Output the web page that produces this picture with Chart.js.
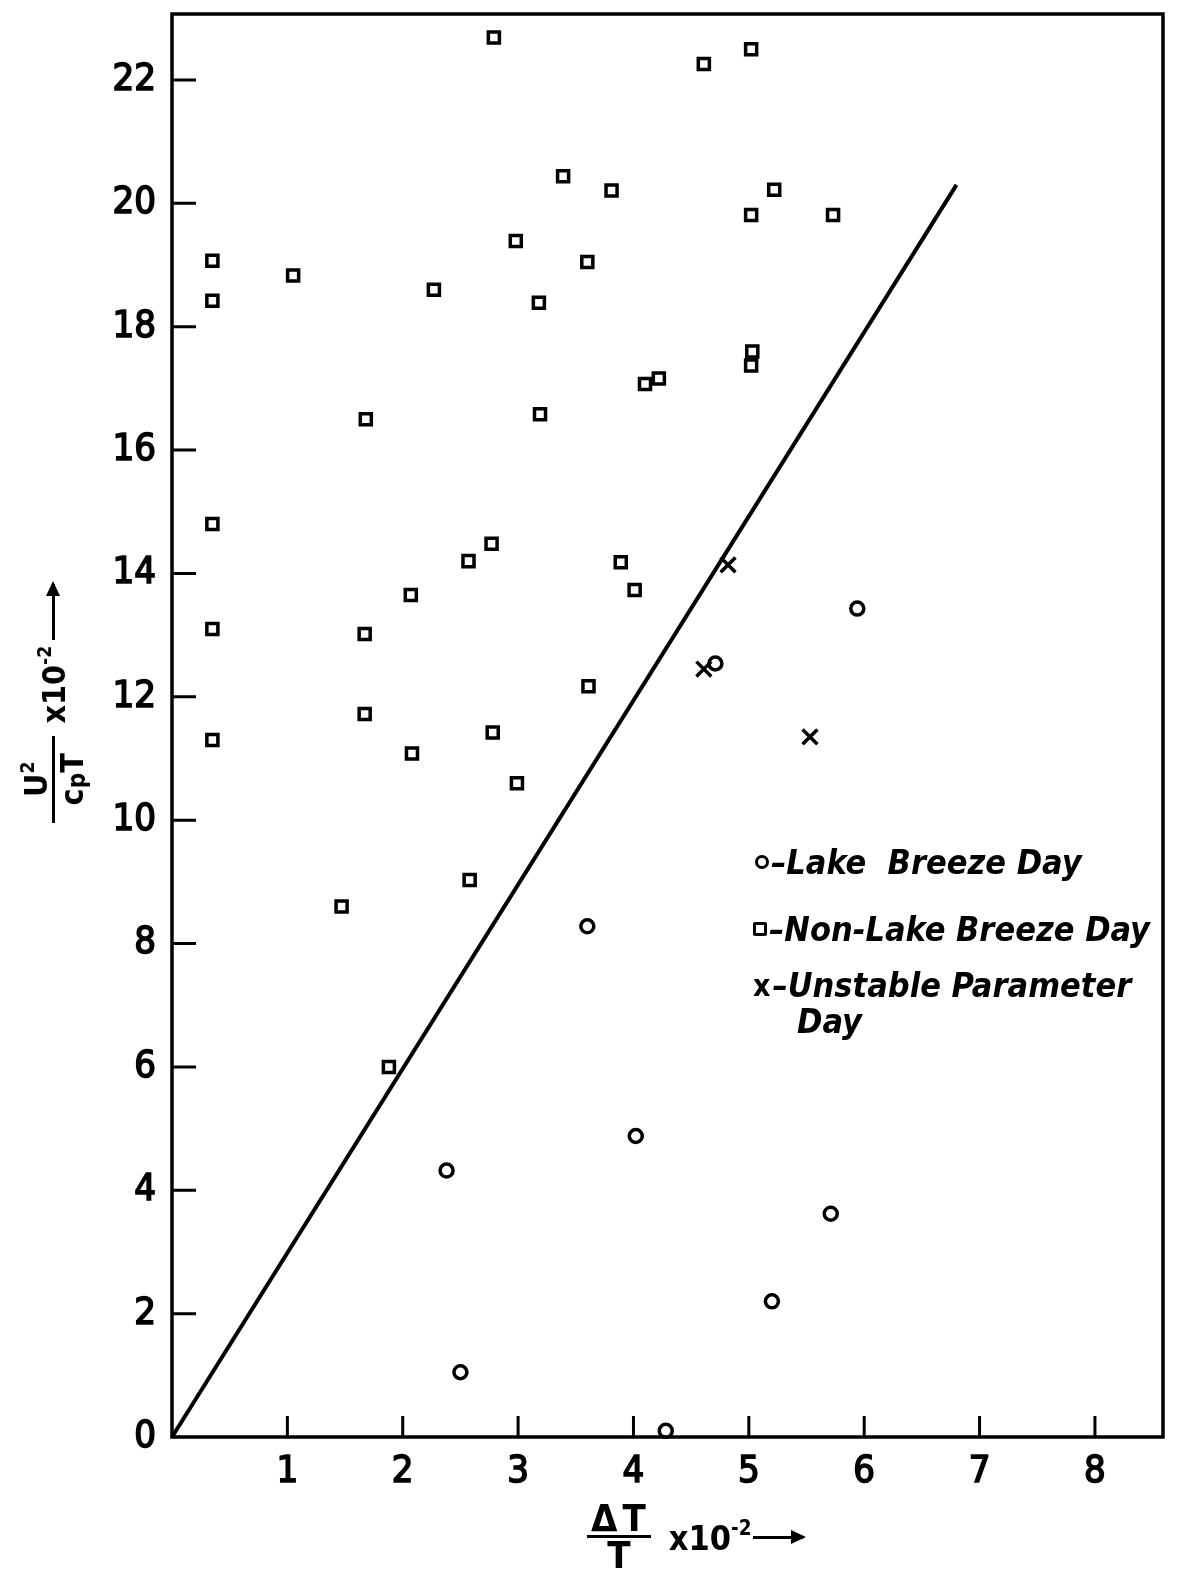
<!DOCTYPE html>
<html>
<head>
<meta charset="utf-8">
<script src="https://cdn.jsdelivr.net/npm/chart.js@4.4.1/dist/chart.umd.min.js"></script>
<style>
  body { margin: 0; background: #fff; }
  #wrap { position: relative; width: 1177px; height: 1571px; }
  #chart { position: absolute; left: 0; top: 0; }
  .ttl { position: absolute; display: flex; align-items: center; color: #000; font-weight: bold;
         font-family: "DejaVu Sans Condensed", "DejaVu Sans", sans-serif; white-space: nowrap; }
  .frac { display: inline-flex; flex-direction: column; align-items: center; }
  .frac .num { border-bottom: 3.5px solid #000; }
  .mult sup { font-size: 0.6em; vertical-align: 0.75em; }
  .frac sup { font-size: 0.6em; vertical-align: 0.7em; }
  .frac sub { font-size: 0.75em; vertical-align: -0.1em; }
  .arrow { position: relative; height: 3px; background: #000; }
  .arrow::after { content: ""; position: absolute; right: -3px; top: -6px;
                  border-left: 15px solid #000; border-top: 7.5px solid transparent; border-bottom: 7.5px solid transparent; }
  #ytitle { left: -72px; top: 663px; width: 250px; height: 70px; font-size: 32px; transform: rotate(-90deg); }
  #ytitle .num { padding: 0 26px; line-height: 32px; }
  #ytitle .den { line-height: 34px; }
  #ytitle .mult { margin-left: 12px; }
  #ytitle .arrow { width: 56px; margin-left: 6px; }
  #xtitle { left: 587px; top: 1503px; height: 68px; font-size: 34px; }
  #xtitle .num { font-size: 38px; letter-spacing: 5px; padding: 0 0 0 4px; line-height: 33px; }
  #xtitle .den { font-size: 38px; line-height: 34px; }
  #xtitle .mult { margin-left: 18px; }
  #xtitle .arrow { width: 50px; margin-left: 2px; }
  .leg { position: absolute; display: flex; align-items: center; height: 40px; color: #000;
         font-family: "DejaVu Sans Condensed", "DejaVu Sans", sans-serif; font-size: 34px; font-weight: bold;
         font-style: italic; white-space: pre; }
  .mk { display: inline-block; box-sizing: border-box; border: 3px solid #000; margin-right: 2px; }
  .mk.circ { width: 14px; height: 14px; border-radius: 50%; }
  .mk.sq { width: 14px; height: 14px; border-radius: 2px; }
  .mk.x { border: none; font-style: normal; font-size: 30px; width: auto; }
</style>
</head>
<body>
<div id="wrap">
  <canvas id="chart" width="1177" height="1571"></canvas>

  <div id="ytitle" class="ttl">
    <span class="frac"><span class="num">U<sup>2</sup></span><span class="den">c<sub>p</sub>T</span></span>
    <span class="mult">x10<sup>-2</sup></span>
    <span class="arrow"></span>
  </div>

  <div id="xtitle" class="ttl">
    <span class="frac"><span class="num">ΔT</span><span class="den">T</span></span>
    <span class="mult">x10<sup>-2</sup></span>
    <span class="arrow"></span>
  </div>

  <div class="leg" style="left:755px; top:842px"><span class="mk circ"></span>–Lake  Breeze Day</div>
  <div class="leg" style="left:753px; top:909px"><span class="mk sq"></span>–Non-Lake Breeze Day</div>
  <div class="leg" style="left:753px; top:965px"><span class="mk x">x</span>–Unstable Parameter</div>
  <div class="leg" style="left:797px; top:1001px">Day</div>
</div>

<script>
// x = ΔT/T ×10^-2, y = U²/(cpT) ×10^-2
const lakeBreeze = [
  [4.71, 12.54], [5.94, 13.43], [3.60, 8.28], [4.02, 4.88], [2.38, 4.32],
  [5.71, 3.62], [5.20, 2.20], [2.50, 1.05], [4.28, 0.10]
];
const nonLakeBreeze = [
  [0.35, 19.07], [0.35, 18.42], [1.05, 18.83], [2.27, 18.60], [2.79, 22.69],
  [2.98, 19.39], [3.18, 18.39], [3.39, 20.44], [3.60, 19.05], [3.81, 20.21],
  [4.61, 22.26], [5.02, 22.50], [5.02, 19.81], [5.22, 20.22], [5.73, 19.81],
  [1.68, 16.50], [3.19, 16.58], [4.10, 17.07], [4.22, 17.16], [5.03, 17.60],
  [5.02, 17.37], [0.35, 14.80], [0.35, 13.10], [0.35, 11.30], [2.57, 14.20],
  [2.77, 14.48], [2.07, 13.65], [1.67, 13.02], [1.67, 11.72], [2.08, 11.08],
  [2.78, 11.42], [2.99, 10.60], [3.61, 12.17], [3.89, 14.18], [4.01, 13.73],
  [1.47, 8.60], [2.58, 9.03], [1.88, 6.00]
];
const unstable = [[4.82, 14.14], [4.61, 12.45], [5.53, 11.35]];
const boundaryLine = [[0, 0], [6.8, 20.3]];

const xTicks = [1, 2, 3, 4, 5, 6, 7, 8];
const yTicks = [0, 2, 4, 6, 8, 10, 12, 14, 16, 18, 20, 22];
const xMax = 8.59, yMax = 23.07;

const toPts = arr => arr.map(p => ({ x: p[0], y: p[1] }));
const tickFont = { family: "'DejaVu Sans Condensed', 'DejaVu Sans', sans-serif", size: 38, weight: 'normal' };

// frame and inward tick marks
const frameTicks = {
  id: 'frameTicks',
  afterDraw(chart) {
    const { ctx, chartArea: a, scales: { x, y } } = chart;
    ctx.save();
    ctx.strokeStyle = '#000';
    ctx.lineWidth = 3.5;
    ctx.strokeRect(a.left, a.top, a.right - a.left, a.bottom - a.top);
    ctx.lineWidth = 3;
    ctx.beginPath();
    xTicks.forEach(v => {
      const px = x.getPixelForValue(v);
      ctx.moveTo(px, a.bottom);
      ctx.lineTo(px, a.bottom - 21);
    });
    yTicks.filter(v => v > 0).forEach(v => {
      const py = y.getPixelForValue(v);
      ctx.moveTo(a.left, py);
      ctx.lineTo(a.left + 24, py);
    });
    ctx.stroke();
    ctx.restore();
  }
};

new Chart(document.getElementById('chart'), {
  type: 'scatter',
  data: {
    datasets: [
      {
        label: 'Lake Breeze Day',
        data: toPts(lakeBreeze),
        pointStyle: 'circle',
        pointRadius: 6.5,
        pointBorderWidth: 3.5,
        pointBorderColor: '#000',
        pointBackgroundColor: 'rgba(0,0,0,0)',
        clip: false
      },
      {
        label: 'Non-Lake Breeze Day',
        data: toPts(nonLakeBreeze),
        pointStyle: 'rect',
        pointRadius: 7.8,
        pointBorderWidth: 3.5,
        pointBorderColor: '#000',
        pointBackgroundColor: 'rgba(0,0,0,0)',
        clip: false
      },
      {
        label: 'Unstable Parameter Day',
        data: toPts(unstable),
        pointStyle: 'crossRot',
        pointRadius: 10.5,
        pointBorderWidth: 3.5,
        pointBorderColor: '#000',
        clip: false
      },
      {
        type: 'line',
        label: 'Boundary',
        data: toPts(boundaryLine),
        borderColor: '#000',
        borderWidth: 4,
        pointRadius: 0,
        showLine: true,
        fill: false,
        clip: false
      }
    ]
  },
  options: {
    responsive: false,
    animation: false,
    devicePixelRatio: 1,
    events: [],
    layout: { padding: { top: 12, right: 9, left: 0, bottom: 0 } },
    plugins: {
      legend: { display: false },
      tooltip: { enabled: false }
    },
    scales: {
      x: {
        type: 'linear',
        min: 0,
        max: xMax,
        afterBuildTicks: s => { s.ticks = xTicks.map(v => ({ value: v })); },
        afterFit: s => { s.height = 134; s.paddingLeft = 0; s.paddingRight = 0; },
        grid: { display: false, drawTicks: false },
        border: { display: false },
        ticks: { color: '#000', font: tickFont, padding: 12, maxRotation: 0, autoSkip: false,
                 textStrokeColor: '#000', textStrokeWidth: 1.6 }
      },
      y: {
        type: 'linear',
        min: 0,
        max: yMax,
        afterBuildTicks: s => { s.ticks = yTicks.map(v => ({ value: v })); },
        afterFit: s => { s.width = 172; s.paddingTop = 0; s.paddingBottom = 0; },
        grid: { display: false, drawTicks: false },
        border: { display: false },
        ticks: { color: '#000', font: tickFont, padding: 16, autoSkip: false,
                 textStrokeColor: '#000', textStrokeWidth: 1.6 }
      }
    }
  },
  plugins: [frameTicks]
});
</script>
</body>
</html>
